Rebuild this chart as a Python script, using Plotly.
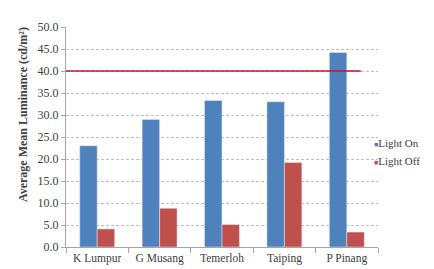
import plotly.graph_objects as go

categories = ["K Lumpur", "G Musang", "Temerloh", "Taiping", "P Pinang"]
light_on = [23.0, 29.0, 33.3, 33.0, 44.2]
light_off = [4.1, 8.8, 5.1, 19.2, 3.4]
threshold = 40.0
y_ticks = [0, 5, 10, 15, 20, 25, 30, 35, 40, 45, 50]
series_names = ["Light On", "Light Off"]
series_colors = ["#4F81BD", "#C0504D"]
y_title = "Average Mean Luminance (cd/m²)"

font_family = "Liberation Serif, Times New Roman, serif"

fig = go.Figure()
for name, vals, col in zip(series_names, [light_on, light_off], series_colors):
    fig.add_trace(go.Bar(name=name, x=categories, y=vals, marker_color=col, showlegend=False))

fig.add_shape(type="line", xref="x domain", yref="y", x0=0, x1=0.945, y0=threshold, y1=threshold,
              line=dict(color="#C8102E", width=1.5), layer="above")

# legend drawn as text entries
legend_y = [0.471, 0.392]
for name, col, ly in zip(series_names, series_colors, legend_y):
    fig.add_annotation(
        xref="paper", yref="paper", x=1.0, y=ly, xanchor="left", yanchor="middle",
        xshift=-4, showarrow=False, borderpad=0, borderwidth=0,
        text=f"<span style='color:{col};font-size:7px'>■</span>{name}",
        font=dict(size=11, color="#404040", family=font_family),
    )

# y-axis title
fig.add_annotation(
    xref="paper", yref="paper", x=-0.138, y=0.604, xanchor="center", yanchor="middle",
    showarrow=False, textangle=-90, text=f"<b>{y_title}</b>",
    font=dict(size=12, color="#404040", family=font_family),
)

fig.update_layout(
    width=434, height=269,
    margin=dict(l=58, r=64, t=15, b=27),
    paper_bgcolor="white", plot_bgcolor="white",
    barmode="group", bargap=0.44, bargroupgap=0,
    font=dict(family=font_family, size=11, color="#404040"),
    showlegend=False,
)
fig.update_yaxes(
    range=[0, 50], tickvals=y_ticks, tickformat=".1f",
    tickfont=dict(size=12),
    showgrid=True, gridcolor="#BFBFBF", griddash="3px,2px", gridwidth=1,
    showline=True, linecolor="#A6A6A6", linewidth=1,
    ticks="outside", ticklen=4, tickcolor="#A6A6A6",
    zeroline=False,
)
fig.update_xaxes(
    showline=True, linecolor="#A6A6A6", linewidth=1,
    ticks="outside", ticklen=5, tickcolor="#A6A6A6", tickson="boundaries",
    tickfont=dict(size=11.5),
    tickangle=0, showgrid=False,
)

fig.write_html("out.html")
